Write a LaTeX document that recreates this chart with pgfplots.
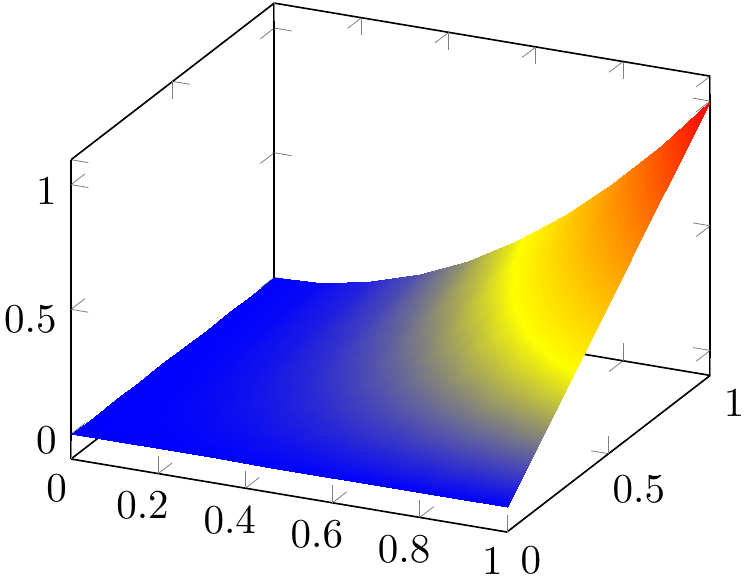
\documentclass[border=0pt]{standalone}
\usepackage{pgfplots}
\pgfplotsset{compat=1.18}
\begin{document}
\begin{tikzpicture}
\path[use as bounding box] (-17.32pt,-11.46pt) rectangle (164.63pt,129.76pt);
\begin{axis}[width=200.9pt,height=174pt,colormap/hot]
\addplot3[surf,shader=interp,mesh/rows=10,mesh/cols=10,mesh/ordering=x varies] table {
x y z
0 0 0
0.1111 0 0
0.2222 0 0
0.3333 0 0
0.4444 0 0
0.5556 0 0
0.6667 0 0
0.7778 0 0
0.8889 0 0
1 0 0
0 0.1111 0
0.1111 0.1111 0.0014
0.2222 0.1111 0.0055
0.3333 0.1111 0.0123
0.4444 0.1111 0.0219
0.5556 0.1111 0.0343
0.6667 0.1111 0.0494
0.7778 0.1111 0.0672
0.8889 0.1111 0.0878
1 0.1111 0.1111
0 0.2222 0
0.1111 0.2222 0.0027
0.2222 0.2222 0.0110
0.3333 0.2222 0.0247
0.4444 0.2222 0.0439
0.5556 0.2222 0.0686
0.6667 0.2222 0.0988
0.7778 0.2222 0.1344
0.8889 0.2222 0.1756
1 0.2222 0.2222
0 0.3333 0
0.1111 0.3333 0.0041
0.2222 0.3333 0.0165
0.3333 0.3333 0.0370
0.4444 0.3333 0.0658
0.5556 0.3333 0.1029
0.6667 0.3333 0.1481
0.7778 0.3333 0.2016
0.8889 0.3333 0.2634
1 0.3333 0.3333
0 0.4444 0
0.1111 0.4444 0.0055
0.2222 0.4444 0.0219
0.3333 0.4444 0.0494
0.4444 0.4444 0.0878
0.5556 0.4444 0.1372
0.6667 0.4444 0.1975
0.7778 0.4444 0.2689
0.8889 0.4444 0.3512
1 0.4444 0.4444
0 0.5556 0
0.1111 0.5556 0.0069
0.2222 0.5556 0.0274
0.3333 0.5556 0.0617
0.4444 0.5556 0.1097
0.5556 0.5556 0.1715
0.6667 0.5556 0.2469
0.7778 0.5556 0.3361
0.8889 0.5556 0.4390
1 0.5556 0.5556
0 0.6667 0
0.1111 0.6667 0.0082
0.2222 0.6667 0.0329
0.3333 0.6667 0.0741
0.4444 0.6667 0.1317
0.5556 0.6667 0.2058
0.6667 0.6667 0.2963
0.7778 0.6667 0.4033
0.8889 0.6667 0.5267
1 0.6667 0.6667
0 0.7778 0
0.1111 0.7778 0.0096
0.2222 0.7778 0.0384
0.3333 0.7778 0.0864
0.4444 0.7778 0.1536
0.5556 0.7778 0.2401
0.6667 0.7778 0.3457
0.7778 0.7778 0.4705
0.8889 0.7778 0.6145
1 0.7778 0.7778
0 0.8889 0
0.1111 0.8889 0.0110
0.2222 0.8889 0.0439
0.3333 0.8889 0.0988
0.4444 0.8889 0.1756
0.5556 0.8889 0.2743
0.6667 0.8889 0.3951
0.7778 0.8889 0.5377
0.8889 0.8889 0.7023
1 0.8889 0.8889
0 1 0
0.1111 1 0.0123
0.2222 1 0.0494
0.3333 1 0.1111
0.4444 1 0.1975
0.5556 1 0.3086
0.6667 1 0.4444
0.7778 1 0.6049
0.8889 1 0.7901
1 1 1
};
\end{axis}
\end{tikzpicture}
\end{document}
